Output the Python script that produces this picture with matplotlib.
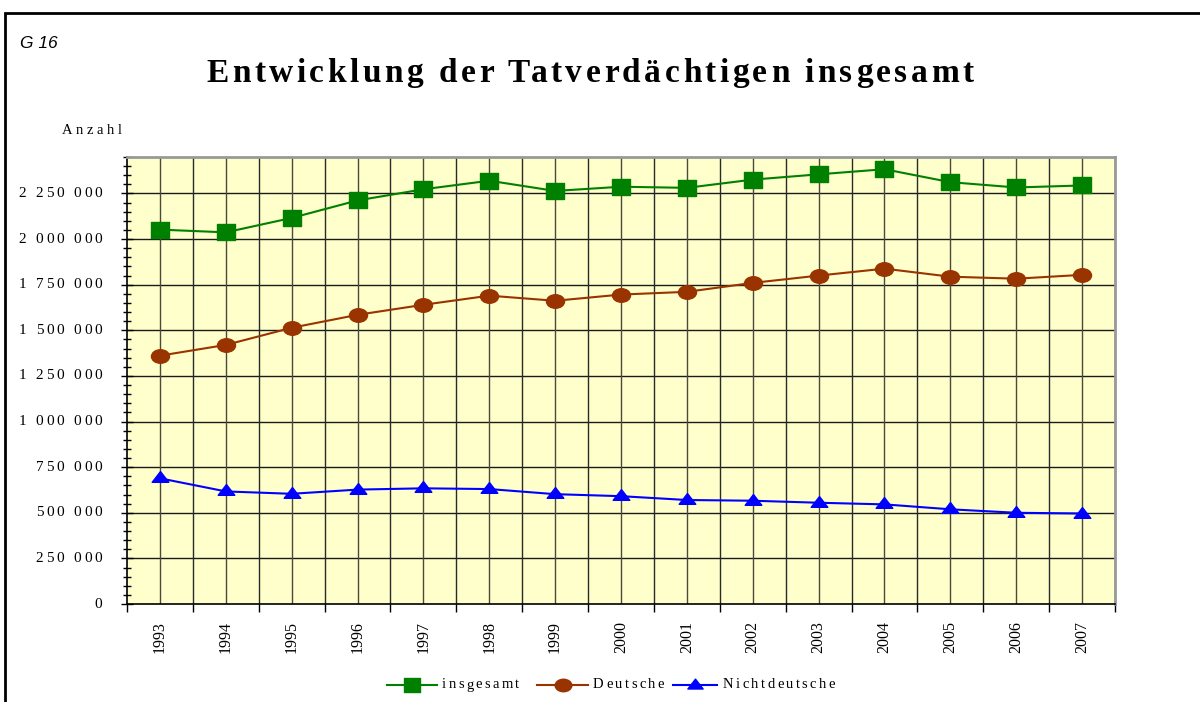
import matplotlib
matplotlib.use("Agg")
import matplotlib.pyplot as plt
from matplotlib.ticker import MultipleLocator, NullFormatter
from matplotlib.patches import Rectangle
from matplotlib.lines import Line2D
from matplotlib.path import Path
from matplotlib.transforms import Affine2D, offset_copy, blended_transform_factory
from matplotlib.font_manager import FontProperties

years = ["1993", "1994", "1995", "1996", "1997", "1998", "1999", "2000",
         "2001", "2002", "2003", "2004", "2005", "2006", "2007"]
insgesamt = [2052000, 2037000, 2116000, 2212000, 2273000, 2320000, 2264000, 2287000,
             2281000, 2326000, 2355000, 2383000, 2312000, 2283000, 2294000]
deutsche = [1361000, 1420000, 1514000, 1585000, 1640000, 1690000, 1662000, 1696000,
            1711000, 1760000, 1800000, 1838000, 1794000, 1783000, 1804000]
nichtdeutsche = [689000, 617000, 604000, 627000, 634000, 630000, 602000, 591000,
                 570000, 566000, 555000, 546000, 519000, 500000, 496000]
series_names = ["insgesamt", "Deutsche", "Nichtdeutsche"]
y_ticks = [0, 250000, 500000, 750000, 1000000, 1250000, 1500000, 1750000, 2000000, 2250000]

W, H = 1200, 702
fig = plt.figure(figsize=(12, 7.02), dpi=100)
fig.patch.set_facecolor("white")
renderer = fig.canvas.get_renderer()

serif = ["Liberation Serif", "DejaVu Serif"]


def text_width(s, fp):
    w, h, d = renderer.get_text_width_height_descent(s, fp, ismath=False)
    return w


def spaced_text(x, y, s, extra, transform, ha="left", va="center", **fkw):
    fp = FontProperties(**fkw)
    pos = []
    for i, ch in enumerate(s):
        if ch == " ":
            continue
        off = text_width(s[:i + 1], fp) - text_width(ch, fp) + extra * i
        pos.append((ch, off))
    total = text_width(s, fp) + extra * (len(s) - 1)
    start = {"left": 0, "center": -total / 2, "right": -total}[ha]
    for ch, off in pos:
        tr = offset_copy(transform, fig=fig, x=(start + off) * 72 / fig.dpi, y=0,
                         units="points")
        fig.text(x, y, ch, transform=tr, ha="left", va=va, fontproperties=fp)


# outer frame
fig.patches.append(Rectangle((5 / W, -0.1), 1.2, 1 - 13 / H + 0.1,
                             transform=fig.transFigure, fill=False,
                             edgecolor="black", linewidth=2))

ax = fig.add_axes([127 / W, 1 - 604 / H, (1115 - 127) / W, (604 - 157) / H])
ax.set_facecolor("#FFFFCC")

sq = Path.unit_rectangle().transformed(Affine2D().translate(-0.5, -0.5).scale(1, 0.85))
ell = Path.unit_circle().transformed(Affine2D().scale(1, 0.75))
tri = Path([(0, 1), (-1.2, -0.55), (1.2, -0.55), (0, 1)],
           [Path.MOVETO, Path.LINETO, Path.LINETO, Path.CLOSEPOLY])

styles = [("#008000", sq, 13), ("#993300", ell, 13), ("#0000FF", tri, 12)]
x = list(range(len(years)))
for vals, (c, m, ms) in zip([insgesamt, deutsche, nichtdeutsche], styles):
    ax.plot(x, vals, color=c, linewidth=1.5, marker=m, markersize=ms, zorder=5)

ax.set_xlim(-0.5, len(years) - 0.5)
ax.set_ylim(0, 2450000)

ax.set_yticks(y_ticks)
ax.yaxis.set_minor_locator(MultipleLocator(50000))
ax.yaxis.set_major_formatter(NullFormatter())
ax.tick_params(axis="y", which="major", direction="inout", length=8, width=1)
ax.tick_params(axis="y", which="minor", direction="inout", length=6, width=1)

ax.set_xticks([i + 0.5 for i in range(-1, len(years))])
ax.set_xticklabels([])
ax.set_xticks(x, minor=True)
ax.set_xticklabels(years, minor=True, rotation=90, fontfamily=serif, fontsize=11.5)
ax.tick_params(axis="x", which="major", direction="out", length=6, width=1)
ax.tick_params(axis="x", which="minor", length=0, pad=12)

# y tick labels (letter-spaced)
ytr = blended_transform_factory(ax.transAxes, ax.transData)
for v in y_ticks:
    lab = f"{v:,}".replace(",", " ")
    spaced_text(-25 / (1115 - 127), v, lab, 2.8, ytr, ha="right", va="center",
                family=serif, size=11)

# grid
for v in y_ticks[1:]:
    ax.axhline(v, color="#1a1a1a", linewidth=1, zorder=1)
for i in range(len(years)):
    ax.axvline(i, color="#4a4a3a", linewidth=1, zorder=1)
    ax.axvline(i + 0.5, color="#2a2a2a", linewidth=1, zorder=1)

for s in ["top", "right"]:
    ax.spines[s].set_color("#999999")
    ax.spines[s].set_linewidth(2)
for s in ["left", "bottom"]:
    ax.spines[s].set_color("black")
    ax.spines[s].set_linewidth(1.2)

fig.text(20 / W, 1 - 44 / H, "G 16", fontfamily=["Liberation Sans", "DejaVu Sans"],
         style="italic", fontsize=12.5, va="center", ha="left")
spaced_text(590 / W, 1 - 73 / H, "Entwicklung der Tatverdächtigen insgesamt", 3.5,
            fig.transFigure, ha="center", va="center",
            family=serif, weight="bold", size=24)
spaced_text(62 / W, 1 - 131 / H, "Anzahl", 3.5, fig.transFigure, ha="left",
            va="center", family=serif, size=10.5)

# legend (manual)
leg_y = 1 - 685 / H
handle_spans = [(387, 437), (537, 588), (673, 717)]
text_starts = [442, 593, 723]
for (x0, x1), tx, name, (c, m, ms) in zip(handle_spans, text_starts, series_names, styles):
    fig.lines.append(Line2D([x0 / W, x1 / W], [leg_y, leg_y], transform=fig.transFigure,
                            color=c, linewidth=1.5))
    fig.lines.append(Line2D([(x0 + x1) / 2 / W], [leg_y], transform=fig.transFigure,
                            color=c, marker=m, markersize=ms - 1, linestyle="none"))
    spaced_text(tx / W, leg_y, name, 2.4, fig.transFigure, ha="left", va="center",
                family=serif, size=10.5)

fig.savefig("out.png", dpi=100)
